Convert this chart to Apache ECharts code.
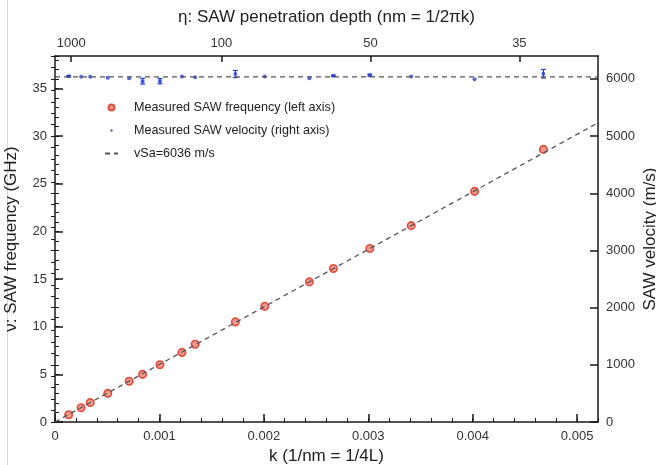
<!DOCTYPE html>
<html>
<head>
<meta charset="utf-8">
<script src="https://cdn.jsdelivr.net/npm/echarts@6/dist/echarts.min.js"></script>
<style>
  html, body { margin: 0; background: #fff; }
  #chart { width: 656px; height: 465px; }
</style>
</head>
<body>
<div id="chart"></div>
<script>
// k (1/nm) of each measurement
const kValues = [0.000131, 0.00025, 0.000337, 0.000505, 0.00071, 0.000839, 0.001005, 0.001216, 0.001342,
  0.001727, 0.002009, 0.002436, 0.002666, 0.003015, 0.003411, 0.004018, 0.004677];
// left axis: frequency (GHz)
const freqGHz = [0.76, 1.5, 2.03, 3.0, 4.28, 5.0, 6.0, 7.3, 8.15, 10.5, 12.15, 14.7, 16.1, 18.2, 20.6, 24.2, 28.6];
// right axis: velocity (m/s) and its error half-width
const velocity = [6045, 6036, 6036, 6020, 6010, 5960, 5960, 6040, 6030, 6085, 6040, 6010, 6055, 6065, 6040, 5995, 6090];
const velocityErr = [12, 0, 0, 0, 0, 50, 45, 0, 0, 62, 0, 0, 12, 18, 0, 0, 75];
// dashed reference lines
const fitK = [0, 0.0052];
const fitFreq = [0, 31.39];
const vSa = 6036;
// top axis: penetration depth ticks
const depthTickK = [0.000155, 0.001593, 0.003022, 0.004447];
const depthTickLabels = ['1000', '100', '50', '35'];

const FONT = '"Liberation Sans", Arial, sans-serif';
const AXIS_COLOR = '#1a1a1a';
const LABEL_COLOR = '#333';

const chart = echarts.init(document.getElementById('chart'));

const freqData = kValues.map((k, i) => [k, freqGHz[i]]);
const velData = kValues.map((k, i) => [k, velocity[i]]);
const errData = [];
kValues.forEach((k, i) => {
  if (velocityErr[i] > 0) errData.push([k, velocity[i] - velocityErr[i], velocity[i] + velocityErr[i]]);
});

const axisLine = { show: true, onZero: false, lineStyle: { color: AXIS_COLOR, width: 1.5 } };
const majorTick = { show: true, inside: true, length: 8, lineStyle: { color: AXIS_COLOR, width: 1.5 } };
const minorAxisTick = { show: true, inside: true, length: 4, lineStyle: { color: AXIS_COLOR, width: 1 } };
const tickLabel = { fontSize: 13, color: LABEL_COLOR, fontFamily: FONT, margin: 8, showMaxLabel: false, formatter: v => String(v) };
const nameStyle = { fontSize: 17, color: '#222', fontFamily: FONT };

// legend icons: small circles inside a fixed 13x8 box (moveTo points set the box)
const ringIcon = 'path://M0 0M13 8M3.5 4A3 3 0 1 0 9.5 4A3 3 0 1 0 3.5 4Z';
const dotIcon = 'path://M0 0M13 8M5.3 4A1.2 1.2 0 1 0 7.7 4A1.2 1.2 0 1 0 5.3 4Z';

const option = {
  animation: false,
  textStyle: { fontFamily: FONT },
  grid: { left: 55, right: 58, top: 56, bottom: 43, containLabel: false, outerBoundsMode: 'none' },
  graphic: [
    { type: 'line', shape: { x1: 7.5, y1: 0, x2: 7.5, y2: 465 }, style: { stroke: '#d6d6d6', lineWidth: 1 } }
  ],
  legend: {
    orient: 'vertical',
    left: 99,
    top: 96,
    itemGap: 10,
    itemWidth: 13,
    itemHeight: 8,
    textStyle: { fontSize: 12.6, color: '#222', fontFamily: FONT, padding: [0, 0, 0, 11] },
    data: [
      { name: 'Measured SAW frequency (left axis)', icon: ringIcon },
      { name: 'Measured SAW velocity (right axis)', icon: dotIcon },
      { name: 'vSa=6036 m/s', itemStyle: { opacity: 0 } }
    ]
  },
  xAxis: [
    {
      type: 'value', position: 'bottom', min: 0, max: 0.0052, interval: 0.001,
      axisLine: axisLine, axisTick: majorTick, splitLine: { show: false },
      axisLabel: Object.assign({}, tickLabel, {
        formatter: v => (v === 0 ? '0' : v.toFixed(3))
      }),
      name: 'k (1/nm = 1/4L)', nameLocation: 'middle', nameGap: 25, nameTextStyle: nameStyle
    },
    {
      type: 'value', position: 'top', min: 0, max: 0.0052,
      axisLine: axisLine, splitLine: { show: false },
      axisTick: { show: true, inside: true, length: 6, customValues: depthTickK, lineStyle: { color: AXIS_COLOR, width: 1.5 } },
      axisLabel: {
        fontSize: 13, color: LABEL_COLOR, fontFamily: FONT, margin: 6,
        customValues: depthTickK,
        formatter: v => {
          let best = 0;
          depthTickK.forEach((k, i) => { if (Math.abs(k - v) < Math.abs(depthTickK[best] - v)) best = i; });
          return depthTickLabels[best];
        }
      },
      name: 'η: SAW penetration depth (nm = 1/2πk)', nameLocation: 'middle', nameGap: 30, nameTextStyle: nameStyle
    },
    {
      type: 'value', position: 'bottom', min: 0, max: 0.0052, interval: 0.0002,
      axisLine: { show: false }, axisTick: minorAxisTick, axisLabel: { show: false }, splitLine: { show: false }
    }
  ],
  yAxis: [
    {
      type: 'value', position: 'left', min: 0, max: 38.4, interval: 5,
      axisLine: axisLine, axisTick: majorTick, splitLine: { show: false },
      axisLabel: tickLabel,
      name: 'ν: SAW frequency (GHz)', nameLocation: 'middle', nameGap: 35, nameRotate: 90, nameTextStyle: nameStyle
    },
    {
      type: 'value', position: 'right', min: 0, max: 6400, interval: 1000,
      axisLine: axisLine, axisTick: majorTick, splitLine: { show: false },
      axisLabel: tickLabel,
      name: 'SAW velocity (m/s)', nameLocation: 'middle', nameGap: 44, nameRotate: 90,
      nameMoveOverlap: false, nameTextStyle: nameStyle
    },
    {
      type: 'value', position: 'left', min: 0, max: 38.4, interval: 1,
      axisLine: { show: false }, axisTick: minorAxisTick, axisLabel: { show: false }, splitLine: { show: false }
    },
    {
      type: 'value', position: 'right', min: 0, max: 6400, interval: 200,
      axisLine: { show: false }, axisTick: minorAxisTick, axisLabel: { show: false }, splitLine: { show: false }
    }
  ],
  series: [
    {
      name: 'vSa=6036 m/s', type: 'line', xAxisIndex: 0, yAxisIndex: 0,
      data: fitK.map((k, i) => [k, fitFreq[i]]),
      symbol: 'none', silent: true,
      itemStyle: { color: '#555' },
      lineStyle: { color: '#555', width: 1.3, type: [5, 4] }
    },
    {
      name: 'vSa=6036 m/s', type: 'line', xAxisIndex: 0, yAxisIndex: 1,
      data: fitK.map(k => [k, vSa]),
      symbol: 'none', silent: true,
      itemStyle: { color: '#555' },
      lineStyle: { color: '#555', width: 1.3, type: [5, 4] }
    },
    {
      name: 'Measured SAW frequency (left axis)', type: 'scatter', xAxisIndex: 0, yAxisIndex: 0,
      data: freqData, symbol: 'circle', symbolSize: 7.5,
      itemStyle: { color: '#f08070', borderColor: '#d8301e', borderWidth: 1.6 }
    },
    {
      name: 'Measured SAW velocity (right axis)', type: 'scatter', xAxisIndex: 0, yAxisIndex: 1,
      data: velData, symbol: 'circle', symbolSize: 4,
      itemStyle: { color: '#2a3fd4' }
    },
    {
      name: 'Measured SAW velocity (right axis)', type: 'custom', xAxisIndex: 0, yAxisIndex: 1,
      data: errData, encode: { x: 0, y: [1, 2] },
      renderItem: function (params, api) {
        const k = api.value(0);
        const lo = api.coord([k, api.value(1)]);
        const hi = api.coord([k, api.value(2)]);
        const w = 2.5;
        const style = { stroke: '#2a3fd4', lineWidth: 1.2 };
        return {
          type: 'group',
          children: [
            { type: 'line', shape: { x1: hi[0], y1: hi[1], x2: lo[0], y2: lo[1] }, style: style },
            { type: 'line', shape: { x1: hi[0] - w, y1: hi[1], x2: hi[0] + w, y2: hi[1] }, style: style },
            { type: 'line', shape: { x1: lo[0] - w, y1: lo[1], x2: lo[0] + w, y2: lo[1] }, style: style }
          ]
        };
      }
    }
  ]
};

chart.setOption(option);
</script>
</body>
</html>
